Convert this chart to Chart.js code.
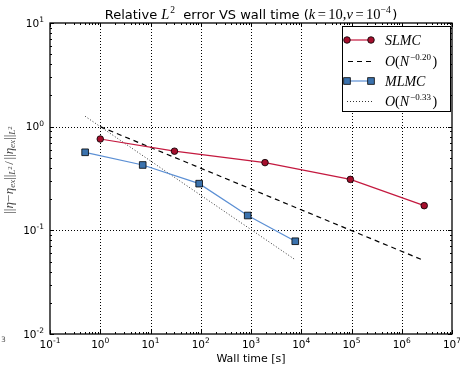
<!DOCTYPE html>
<html><head><meta charset="utf-8">
<script src="https://cdn.jsdelivr.net/npm/chart.js@4/dist/chart.umd.min.js"></script>
<style>html,body{margin:0;padding:0;background:#fff;}#c{display:block}</style>
</head><body>
<canvas id="c" width="460" height="366"></canvas>
<script>
// ---- data ----
const slmcTime = [1, 30, 1900, 95000, 2.8e6];
const slmcErr  = [0.76, 0.58, 0.45, 0.31, 0.173];
const mlmcTime = [0.5, 7, 93, 860, 7600];
const mlmcErr  = [0.566, 0.427, 0.282, 0.139, 0.0785];
const refSlowTime = [1, 2.8e6];      // O(N^-0.20)
const refSlowErr  = [1.0, 0.051];
const refFastTime = [0.5, 7600];     // O(N^-0.33)
const refFastErr  = [1.26, 0.052];
const xTickVals = [0.1, 1, 10, 100, 1e3, 1e4, 1e5, 1e6, 1e7];
const xTickExp  = ['-1','0','1','2','3','4','5','6','7'];
const yTickVals = [0.01, 0.1, 1, 10];
const yTickExp  = ['-2','-1','0','1'];
const seriesNames = ['SLMC', 'O(N^-0.20)', 'MLMC', 'O(N^-0.33)'];

const RED_LINE = '#c4193f', RED_FILL = '#a50f2d';
const BLUE_LINE = '#5b8fd4', BLUE_FILL = '#3b72ad';

const pts = (xs, ys) => xs.map((x, i) => ({x, y: ys[i]}));

const SANS = '"DejaVu Sans", sans-serif';
const SERIF = '"Liberation Serif", serif';

// parts: [text, font, dy, extraAdvance]
function runs(ctx, parts, x, y, align) {
  let w = 0;
  for (const p of parts) { ctx.font = p[1]; w += ctx.measureText(p[0]).width + (p[3] || 0); }
  let sx = align === 'center' ? x - w / 2 : (align === 'right' ? x - w : x);
  ctx.textAlign = 'left'; ctx.textBaseline = 'alphabetic';
  for (const p of parts) {
    ctx.font = p[1];
    ctx.fillText(p[0], sx, y + (p[2] || 0));
    sx += ctx.measureText(p[0]).width + (p[3] || 0);
  }
}

const deco = {
  id: 'deco',
  beforeDatasetsDraw(chart) {
    const {ctx, chartArea: a, scales: {x, y}} = chart;
    ctx.save();
    ctx.strokeStyle = '#000'; ctx.lineWidth = 1; ctx.setLineDash([1, 2]);
    for (const v of xTickVals) {
      const px = Math.round(x.getPixelForValue(v)) + 0.5;
      if (px < a.left + 2 || px > a.right - 2) continue;
      ctx.beginPath(); ctx.moveTo(px, a.top); ctx.lineTo(px, a.bottom); ctx.stroke();
    }
    for (const v of yTickVals) {
      const py = Math.round(y.getPixelForValue(v)) + 0.5;
      if (py < a.top + 2 || py > a.bottom - 2) continue;
      ctx.beginPath(); ctx.moveTo(a.left, py); ctx.lineTo(a.right, py); ctx.stroke();
    }
    ctx.restore();
  },
  afterDatasetsDraw(chart) {
    const {ctx, chartArea: a, scales: {x, y}} = chart;
    ctx.save();
    ctx.setLineDash([]);
    ctx.strokeStyle = '#000'; ctx.lineWidth = 1;
    const tick = (x1, y1, x2, y2) => { ctx.beginPath(); ctx.moveTo(x1, y1); ctx.lineTo(x2, y2); ctx.stroke(); };
    for (let i = 0; i < xTickVals.length; i++) {
      const v = xTickVals[i];
      const px = Math.round(x.getPixelForValue(v)) + 0.5;
      tick(px, a.bottom, px, a.bottom - 4); tick(px, a.top, px, a.top + 4);
      if (i < xTickVals.length - 1) for (let k = 2; k < 10; k++) {
        const mx = Math.round(x.getPixelForValue(v * k)) + 0.5;
        tick(mx, a.bottom, mx, a.bottom - 2); tick(mx, a.top, mx, a.top + 2);
      }
    }
    for (let i = 0; i < yTickVals.length; i++) {
      const v = yTickVals[i];
      const py = Math.round(y.getPixelForValue(v)) + 0.5;
      tick(a.left, py, a.left + 4, py); tick(a.right, py, a.right - 4, py);
      if (i < yTickVals.length - 1) for (let k = 2; k < 10; k++) {
        const my = Math.round(y.getPixelForValue(v * k)) + 0.5;
        tick(a.left, my, a.left + 2, my); tick(a.right, my, a.right - 2, my);
      }
    }
    // frame
    ctx.lineWidth = 1.3;
    ctx.strokeRect(a.left, a.top, a.right - a.left, a.bottom - a.top);

    // tick labels
    ctx.fillStyle = '#000';
    for (let i = 0; i < xTickVals.length; i++) {
      const px = x.getPixelForValue(xTickVals[i]);
      runs(ctx, [['10', '10.5px ' + SANS], [xTickExp[i], '7.5px ' + SANS, -4.5]], px, a.bottom + 13.5, 'center');
    }
    for (let i = 0; i < yTickVals.length; i++) {
      const py = y.getPixelForValue(yTickVals[i]);
      runs(ctx, [['10', '10.5px ' + SANS], [yTickExp[i], '7.5px ' + SANS, -4.5]], a.left - 6, py + 3.5, 'right');
    }

    // x axis title
    ctx.font = '11px ' + SANS; ctx.textAlign = 'center'; ctx.textBaseline = 'alphabetic';
    ctx.fillText('Wall time [s]', (a.left + a.right) / 2, 362);

    // title
    const it = 'italic 14.5px ' + SERIF, rm = '14.5px ' + SERIF, sn = '13px ' + SANS, sp = '9.5px ' + SERIF;
    runs(ctx, [
      ['Relative ', sn], ['L', it, 0, 1], ['2', sp, -6], ['  error VS wall time (', sn],
      ['k', it, 0, 2.5], ['=', rm, 0, 2.5], ['10', rm], [',', rm], ['ν', it, 0, 2.5], ['=', rm, 0, 2.5], ['10', rm],
      ['−4', sp, -6, 1.5], [')', sn]
    ], (a.left + a.right) / 2, 19, 'center');

    // y label (rotated)
    ctx.save();
    ctx.fillStyle = '#444';
    ctx.translate(12.5, 170); ctx.rotate(-Math.PI / 2);
    const ym = '13px ' + SERIF, yi = 'italic 13px ' + SERIF, ys = 'italic 9px ' + SERIF, yss = '7px ' + SERIF;
    runs(ctx, [
      ['||', ym], ['η', yi], ['−', ym, 0, 0.5], ['η', yi], ['ex', ys, 2.5], ['||', ym], ['L', ys, 2.5], ['2', yss, -0.5, 1.5],
      ['/', ym, 0, 1.5], ['||', ym], ['η', yi], ['ex', ys, 2.5], ['||', ym], ['L', ys, 2.5], ['2', yss, -0.5]
    ], 0, 0, 'center');
    ctx.restore();

    // stray glyph at bottom-left
    ctx.fillStyle = '#555'; ctx.font = '7.5px ' + SANS; ctx.textAlign = 'left';
    ctx.fillText('3', 1, 342);

    // legend
    const L = 342.5, T = 26.5, R = 450.5, B = 111.5;
    ctx.fillStyle = '#fff'; ctx.fillRect(L, T, R - L, B - T);
    ctx.strokeStyle = '#000'; ctx.lineWidth = 1; ctx.setLineDash([]);
    ctx.strokeRect(L, T, R - L, B - T);
    const ly = [40, 61.5, 81, 101.5];
    const x1 = 347, x2 = 371, tx = 385;
    // SLMC
    ctx.strokeStyle = RED_LINE; ctx.lineWidth = 1.2;
    tick(x1, ly[0], x2, ly[0]);
    for (const mx of [x1, x2]) {
      ctx.beginPath(); ctx.arc(mx, ly[0], 3.3, 0, 2 * Math.PI);
      ctx.fillStyle = RED_FILL; ctx.fill(); ctx.strokeStyle = '#000'; ctx.lineWidth = 0.8; ctx.stroke();
    }
    // dashed
    ctx.strokeStyle = '#000'; ctx.lineWidth = 1.2; ctx.setLineDash([5, 4]);
    tick(x1 + 1, ly[1], x2 + 1, ly[1]);
    // MLMC
    ctx.setLineDash([]); ctx.strokeStyle = BLUE_LINE; ctx.lineWidth = 1.2;
    tick(x1, ly[2], x2, ly[2]);
    for (const mx of [x1, x2]) {
      ctx.fillStyle = BLUE_FILL; ctx.fillRect(mx - 3.3, ly[2] - 3.3, 6.6, 6.6);
      ctx.strokeStyle = '#000'; ctx.lineWidth = 0.8; ctx.strokeRect(mx - 3.3, ly[2] - 3.3, 6.6, 6.6);
    }
    // dotted
    ctx.strokeStyle = '#333'; ctx.lineWidth = 1; ctx.setLineDash([1, 2]);
    tick(x1, ly[3], x2 + 2, ly[3]);
    ctx.setLineDash([]);
    ctx.fillStyle = '#000';
    const li = 'italic 14px ' + SERIF, lr = '14px ' + SERIF, ls = '9px ' + SERIF;
    const legendRuns = (name) => {
      const m = name.match(/^O\(N\^(.*)\)$/);
      if (!m) return [[name, li]];
      return [['O', li], ['(', lr], ['N', li, 0, 1], [m[1].replace('-', '−'), ls, -6, 1.5], [')', lr]];
    };
    for (let i = 0; i < 4; i++) runs(ctx, legendRuns(seriesNames[i]), tx, ly[i] + 4.5, 'left');
    ctx.restore();
  }
};

new Chart(document.getElementById('c').getContext('2d'), {
  type: 'line',
  data: {
    datasets: [
      { label: seriesNames[0], data: pts(slmcTime, slmcErr), borderColor: RED_LINE, borderWidth: 1.2,
        pointStyle: 'circle', pointRadius: 3.3, pointBackgroundColor: RED_FILL, pointBorderColor: '#000',
        pointBorderWidth: 0.8, tension: 0, order: 1 },
      { label: seriesNames[1], data: pts(refSlowTime, refSlowErr), borderColor: '#000', borderWidth: 1.2,
        borderDash: [5, 4], pointRadius: 0, tension: 0, order: 2 },
      { label: seriesNames[2], data: pts(mlmcTime, mlmcErr), borderColor: BLUE_LINE, borderWidth: 1.2,
        pointStyle: 'rect', pointRadius: 4.7, pointBackgroundColor: BLUE_FILL, pointBorderColor: '#000',
        pointBorderWidth: 0.8, tension: 0, order: 3 },
      { label: seriesNames[3], data: pts(refFastTime, refFastErr), borderColor: '#333', borderWidth: 1,
        borderDash: [1, 2], pointRadius: 0, tension: 0, order: 4 }
    ]
  },
  options: {
    responsive: false, animation: false, devicePixelRatio: 1,
    layout: { padding: { left: 50, right: 8, top: 23, bottom: 32 } },
    plugins: { legend: { display: false }, title: { display: false }, tooltip: { enabled: false } },
    scales: {
      x: { type: 'logarithmic', min: 0.1, max: 1e7, display: false },
      y: { type: 'logarithmic', min: 0.01, max: 10, display: false }
    }
  },
  plugins: [deco]
});
</script>
</body></html>
